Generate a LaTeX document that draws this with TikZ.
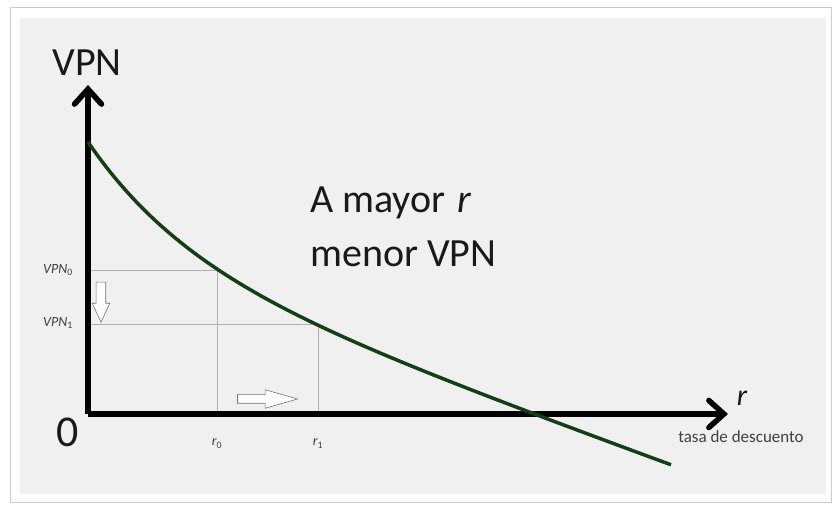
\documentclass[tikz,border=0pt]{standalone}
\usepackage{fontspec}
\setmainfont{Carlito}
\usetikzlibrary{arrows.meta,shapes.arrows}
\definecolor{panel}{RGB}{240,240,240}
\definecolor{curvegreen}{RGB}{20,62,20}
\definecolor{guidegray}{RGB}{175,175,175}
\begin{document}
\begin{tikzpicture}[x=1pt,y=1pt]
\tikzstyle{every node}+=[inner sep=0pt, text=black!90]
\tikzstyle{axis}=[line width=5.5pt, -{Straight Barb[length=15pt,width=27pt,line cap=round]}]
\tikzstyle{guide}=[guidegray, line width=0.8pt]
\tikzstyle{hollow}=[single arrow, draw=black!55, fill=white, line width=0.6pt, inner sep=4pt]
\tikzstyle{smalllab}=[font=\fontsize{14}{14}\selectfont\itshape, text=black!75]
\useasboundingbox (-88,-91) rectangle (745,414);
\draw [black!20, line width=0.8pt] (-78,-88) rectangle (743,407);
\fill [panel] (-68,-80) rectangle (738,396);
\coordinate (O) at (0,0);
\coordinate (ytip) at (0,329);
\coordinate (xtip) at (640,0);
\coordinate (v0) at (0,144);
\coordinate (p0) at (129,144);
\coordinate (r0) at (129,0);
\coordinate (v1) at (0,90);
\coordinate (p1) at (230,90);
\coordinate (r1) at (230,0);
\draw [guide] (v0) -- (p0) -- (r0);
\draw [guide] (v1) -- (p1) -- (r1);
\draw [axis] (O) -- (ytip);
\draw [axis] (O) -- (xtip);
\draw [curvegreen, line width=3.5pt] plot [domain=0:583, samples=120] (\x, {110.3*exp(-0.01*\x) - 0.365*\x + 161.7});
\node (vpnlab) [font=\fontsize{40}{40}\selectfont] at (-1,351) {VPN};
\node (zero) [font=\fontsize{44}{44}\selectfont] at (-20,-18) {0};
\node (rlab) [font=\fontsize{30}{30}\selectfont\itshape] at (654,16) {r};
\node (tasa) [anchor=base, font=\fontsize{17}{17}\selectfont, text=black!75] at (653,-29) {tasa de descuento};
\node (vpn0) [smalllab, anchor=east] at (-15,144) {VPN\textsubscript{\upshape 0}};
\node (vpn1) [smalllab, anchor=east] at (-15,91) {VPN\textsubscript{\upshape 1}};
\node (r0lab) [smalllab, anchor=base] at (129,-32) {r\textsubscript{\upshape 0}};
\node (r1lab) [smalllab, anchor=base] at (230,-32) {r\textsubscript{\upshape 1}};
\node (line1) [anchor=base west, font=\fontsize{40}{40}\selectfont] at (222,201) {A mayor\hspace{0.3em}\textit{r}};
\node (line2) [anchor=base west, font=\fontsize{40}{40}\selectfont] at (222,147) {menor VPN};
\node (down) [hollow, shape border rotate=270, inner sep=4.5pt, minimum height=40pt, single arrow head extend=4pt, single arrow tip angle=50] at (13,117) {};
\node (right) [hollow, minimum height=60pt, single arrow head extend=5pt, single arrow tip angle=32] at (172,15) {};
\end{tikzpicture}
\end{document}
